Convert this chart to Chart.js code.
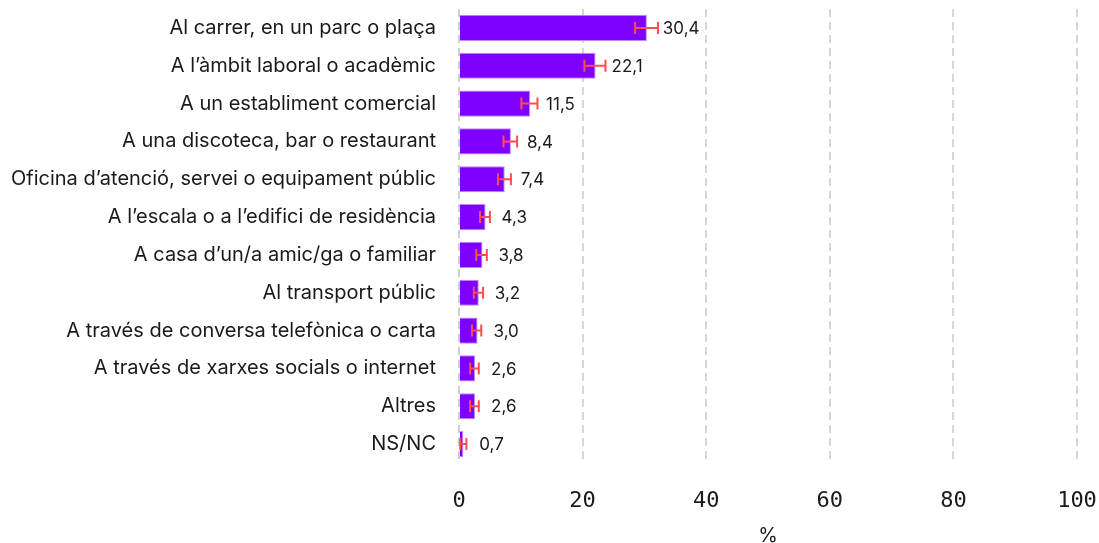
<!DOCTYPE html>
<html lang="ca">
<head>
  <meta charset="UTF-8">
  <title>Lloc</title>
  <style>
    body {
      margin: 0;
      background: #ffffff;
    }
    .wrap {
      width: 1099px;
      height: 543px;
    }
  </style>
</head>
<body>
  <div class="wrap">
    <canvas id="chart" width="1099" height="543"></canvas>
  </div>
  <script src="https://cdn.jsdelivr.net/npm/chart.js"></script>
  <script>
    const categories = [
      "Al carrer, en un parc o plaça",
      "A l’àmbit laboral o acadèmic",
      "A un establiment comercial",
      "A una discoteca, bar o restaurant",
      "Oficina d’atenció, servei o equipament públic",
      "A l’escala o a l’edifici de residència",
      "A casa d’un/a amic/ga o familiar",
      "Al transport públic",
      "A través de conversa telefònica o carta",
      "A través de xarxes socials o internet",
      "Altres",
      "NS/NC"
    ];
    const values = [30.4, 22.1, 11.5, 8.4, 7.4, 4.3, 3.8, 3.2, 3.0, 2.6, 2.6, 0.7];
    // interval de confiança (mín, màx) llegit del gràfic
    const errLow = [28.5, 20.3, 10.1, 7.2, 6.3, 3.4, 2.8, 2.4, 2.1, 1.8, 1.8, 0.2];
    const errHigh = [32.2, 23.7, 12.7, 9.4, 8.4, 5.0, 4.5, 3.9, 3.6, 3.2, 3.2, 1.2];
    const xTicks = [0, 20, 40, 60, 80, 100];

    const FONT = "Inter, 'Liberation Sans', sans-serif";
    const MONO = "'DejaVu Sans Mono', 'Liberation Mono', monospace";

    // barres d'error i etiquetes de valor
    const errorBars = {
      id: "errorBars",
      afterDatasetsDraw(chart) {
        const ctx = chart.ctx;
        const x = chart.scales.x;
        const meta = chart.getDatasetMeta(0);
        ctx.save();
        meta.data.forEach((bar, i) => {
          const y = bar.y;
          const x1 = x.getPixelForValue(errLow[i]);
          const x2 = x.getPixelForValue(errHigh[i]);
          ctx.strokeStyle = "#ff4d4d";
          ctx.lineWidth = 2;
          ctx.beginPath();
          ctx.moveTo(x1, y);
          ctx.lineTo(x2, y);
          ctx.moveTo(x1, y - 6);
          ctx.lineTo(x1, y + 6);
          ctx.moveTo(x2, y - 6);
          ctx.lineTo(x2, y + 6);
          ctx.stroke();

          ctx.fillStyle = "#1a1a1a";
          ctx.font = "17px " + FONT;
          ctx.textBaseline = "middle";
          ctx.textAlign = "left";
          ctx.fillText(values[i].toFixed(1).replace(".", ","), bar.x + 16, y + 1);
        });
        ctx.restore();
      }
    };

    new Chart(document.getElementById("chart"), {
      type: "bar",
      data: {
        labels: categories,
        datasets: [{
          data: values,
          backgroundColor: "#7f00ff",
          borderColor: "#b98cff",
          borderWidth: 1,
          barPercentage: 0.69,
          categoryPercentage: 1
        }]
      },
      options: {
        indexAxis: "y",
        responsive: false,
        animation: false,
        layout: { padding: { top: 9, right: 22, left: 0, bottom: 0 } },
        plugins: {
          legend: { display: false },
          tooltip: { enabled: false }
        },
        scales: {
          x: {
            min: 0,
            max: 100,
            afterBuildTicks(scale) {
              scale.ticks = xTicks.map(v => ({ value: v }));
            },
            afterFit(scale) {
              scale.height = 80;
              scale.paddingLeft = 0;
              scale.paddingRight = 0;
            },
            grid: {
              drawTicks: false,
              color: (c) => c.tick.value === 0 ? "#cfcfcf" : "#d6d6d6",
              lineWidth: 2
            },
            border: { display: false, dash: [8, 5] },
            ticks: {
              padding: 25,
              color: "#1a1a1a",
              font: { family: MONO, size: 22 }
            },
            title: {
              display: true,
              text: "%",
              color: "#1a1a1a",
              font: { family: FONT, size: 20 },
              padding: { top: 0, bottom: -5 }
            }
          },
          y: {
            afterFit(scale) {
              scale.width = 459;
              scale.paddingTop = 0;
              scale.paddingBottom = 0;
            },
            grid: { display: false, drawTicks: false },
            border: { display: false },
            ticks: {
              padding: 23,
              color: "#1a1a1a",
              font: { family: FONT, size: 20 }
            }
          }
        }
      },
      plugins: [errorBars]
    });
  </script>
</body>
</html>
